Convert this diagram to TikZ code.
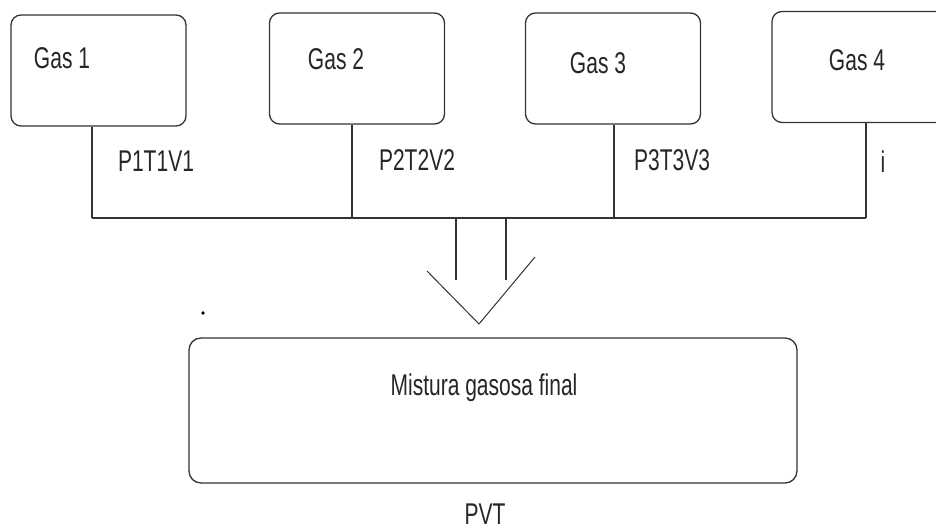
\documentclass[tikz,border=0pt]{standalone}
\usepackage{fontspec}
\setmainfont{Liberation Sans}[FakeStretch=0.7]
\begin{document}
\begin{tikzpicture}[x=1pt,y=-1pt,
  line/.style={draw=black!80,line width=1.3pt},
  gasbox/.style={line,rounded corners=10pt,inner sep=0pt,minimum width=175pt,minimum height=111pt},
  lbl/.style={inner sep=0pt,font=\fontsize{30}{32}\selectfont,text=black!85}]
\useasboundingbox (0,0) rectangle (936,529);
% gas boxes
\node[gasbox] (g1) at (98.5,70.5) {};
\node[gasbox] (g2) at (357,68.5) {};
\node[gasbox] (g3) at (613,68.5) {};
\node[gasbox] (g4) at (859.5,67) {};
\node[lbl] (t1) at (62,58) {Gas 1};
\node[lbl] (t2) at (336,59) {Gas 2};
\node[lbl] (t3) at (598,63) {Gas 3};
\node[lbl] (t4) at (857,60) {Gas 4};
% bus
\coordinate (j1) at (92,218);
\coordinate (j2) at (352,218);
\coordinate (j3) at (614,218);
\coordinate (j4) at (866,218);
\draw[line] (j1 |- g1.south) -- (j1);
\draw[line] (j2 |- g2.south) -- (j2);
\draw[line] (j3 |- g3.south) -- (j3);
\draw[line] (j4 |- g4.south) -- (j4);
\draw[line] (j1) -- (j4);
\node[lbl] (p1) at (156,161) {P1T1V1};
\node[lbl] (p2) at (417,160) {P2T2V2};
\node[lbl] (p3) at (672,160) {P3T3V3};
\node[lbl] (p4) at (883,162) {i};
% hollow arrow
\coordinate (a1) at (456,218);
\coordinate (a2) at (506,218);
\draw[line] (a1) -- ++(0,62);
\draw[line] (a2) -- ++(0,62);
\draw[line,line width=1pt] (427,271) -- (479,324) -- (535,257);
% dot
\fill[black] (203,313) circle (1.8pt);
% final box
\node[line,rounded corners=12pt,minimum width=608pt,minimum height=145pt,inner sep=0pt] (mix) at (493,410.5) {};
\node[lbl] (mt) at (484,388) {Mistura gasosa final};
\node[lbl] (pvt) at (485,514) {PVT};
\end{tikzpicture}
\end{document}
